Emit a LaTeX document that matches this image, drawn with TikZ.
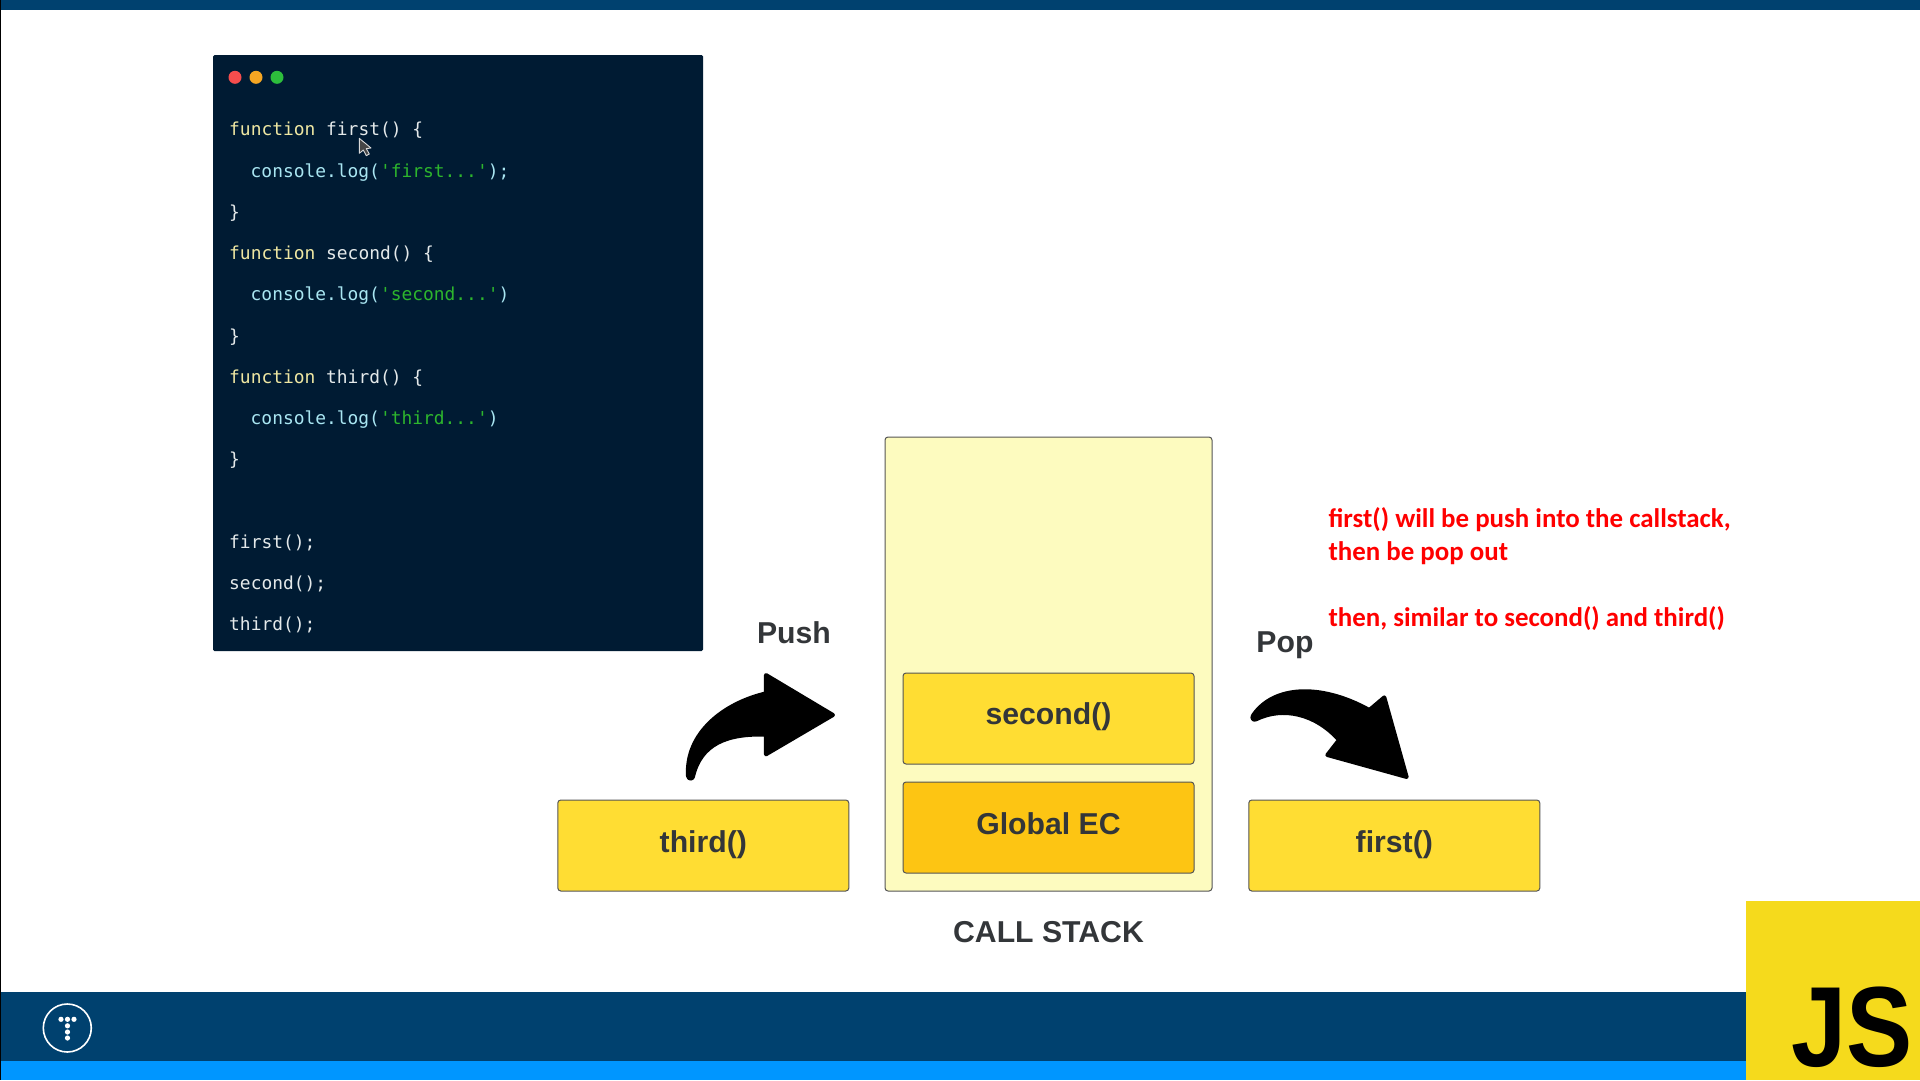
\documentclass[tikz,border=0pt]{standalone}
\usepackage{fontspec}
\setmainfont{Liberation Sans}
\newfontfamily\codefont{DejaVu Sans Mono}
\newfontfamily\notefont{Carlito}
\definecolor{barDark}{HTML}{00416F}
\definecolor{barBlue}{HTML}{0096FF}
\definecolor{panel}{HTML}{001B33}
\definecolor{kwcol}{HTML}{EFE7A2}
\definecolor{plaincol}{HTML}{E4E9EA}
\definecolor{fncol}{HTML}{A9E6F2}
\definecolor{strcol}{HTML}{2DB52D}
\definecolor{boxY}{HTML}{FFDD33}
\definecolor{boxG}{HTML}{FDC513}
\definecolor{stackY}{HTML}{FDFBBF}
\definecolor{edge}{HTML}{555555}
\definecolor{labelc}{HTML}{333639}
\definecolor{jsY}{HTML}{F5DA1C}
\definecolor{dotR}{HTML}{F54D4D}
\definecolor{dotO}{HTML}{F5A623}
\definecolor{dotG}{HTML}{2DBE3C}
\newcommand{\kw}[1]{\textcolor{kwcol}{#1}}
\newcommand{\fnc}[1]{\textcolor{fncol}{#1}}
\newcommand{\strc}[1]{\textcolor{strcol}{#1}}
\tikzset{
  codeline/.style={anchor=base west,inner sep=0pt,text=plaincol,font=\codefont\fontsize{17.9}{20}\selectfont},
  stackbox/.style={draw=edge,line width=1pt,rounded corners=3pt,inner sep=0pt},
  boxlabel/.style={inner sep=0pt,anchor=base,text=labelc,font=\fontsize{30.2}{36}\bfseries\selectfont},
  note/.style={anchor=base west,inner sep=0pt,text=red,font=\notefont\fontsize{26.9}{30}\bfseries\selectfont},
  dot/.style={circle,minimum size=13pt,inner sep=0pt},
  tdot/.style={circle,fill=white,minimum size=5.2pt,inner sep=0pt},
  bigarrow/.style={fill=black,draw=black,line width=4pt,line join=round}
}
\begin{document}
\begin{tikzpicture}[x=1pt,y=-1pt]
\useasboundingbox (0,0) rectangle (1920,1080);
\fill[white] (0,0) rectangle (1920,1080);
% frame bars
\fill[barDark] (0,0) rectangle (1920,10);
\fill[black] (0,0) rectangle (1,1080);
\fill[barDark] (1,992) rectangle (1746,1061);
\fill[barBlue] (1,1061) rectangle (1746,1080);
% code panel
\fill[panel,rounded corners=1.5pt] (213,55) rectangle (703,651);
\node[dot,fill=dotR] (d1) at (235,77.3) {};
\node[dot,fill=dotO] (d2) at (256,77.3) {};
\node[dot,fill=dotG] (d3) at (277,77.3) {};
\node[codeline] (c1) at (229,135) {\kw{function} first() \{};
\node[codeline] (c2) at (250.5,177) {\fnc{console.log(}\strc{'first...'}\fnc{);}};
\node[codeline] (c3) at (229,218) {\}};
\node[codeline] (c4) at (229,259) {\kw{function} second() \{};
\node[codeline] (c5) at (250.5,300.5) {\fnc{console.log(}\strc{'second...'}\fnc{)}};
\node[codeline] (c6) at (229,342) {\}};
\node[codeline] (c7) at (229,383.5) {\kw{function} third() \{};
\node[codeline] (c8) at (250.5,424.5) {\fnc{console.log(}\strc{'third...'}\fnc{)}};
\node[codeline] (c9) at (229,465) {\}};
\node[codeline] (c10) at (229,548) {first();};
\node[codeline] (c11) at (229,589) {second();};
\node[codeline] (c12) at (229,630) {third();};
% mouse cursor
\begin{scope}[shift={(200,40)},x=0.3333pt,y=-0.3333pt]
\fill[gray!55!black,draw=white!85!black,line width=0.9pt,line join=round] (478,295) -- (478,340) -- (490,330) -- (499,347) -- (508,342) -- (499,326) -- (513,324) -- cycle;
\end{scope}
% stack
\node[stackbox,fill=stackY,minimum width=327pt,minimum height=454pt] (stack) at (1048.5,664) {};
\node[stackbox,fill=boxY,minimum width=291pt,minimum height=91pt] (second) at (1048.5,718.5) {};
\node[stackbox,fill=boxG,minimum width=291pt,minimum height=91pt] (global) at (1048.5,827.5) {};
\node[stackbox,fill=boxY,minimum width=291pt,minimum height=91pt] (third) at (703.3,845.5) {};
\node[stackbox,fill=boxY,minimum width=291pt,minimum height=91pt] (first) at (1394.3,845.5) {};
\node[boxlabel] (tsecond) at (1048.5,724) {second()};
\node[boxlabel] (tglobal) at (1048.5,834) {Global EC};
\node[boxlabel] (tthird) at (703.3,852) {third()};
\node[boxlabel] (tfirst) at (1394.3,852) {first()};
\node[boxlabel] (tcall) at (1048.5,942.5) {CALL STACK};
\node[boxlabel] (tpush) at (794,643) {Push};
\node[boxlabel] (tpop) at (1285,652) {Pop};
% push arrow
\begin{scope}[shift={(660,620)},x=0.3333pt,y=-0.3333pt]
\draw[bigarrow] (318,165) -- (519,285) -- (318,403) -- (318,344)
  .. controls (200,340) and (122,372) .. (99,470)
  .. controls (97,478) and (86,478) .. (84,468)
  .. controls (76,340) and (190,250) .. (318,220) -- cycle;
\end{scope}
% pop arrow
\begin{scope}[shift={(1230,620)},x=0.3333pt,y=-0.3333pt]
\draw[bigarrow] (463,232) -- (530,471) -- (292,405) -- (327,360)
  .. controls (258,282) and (160,258) .. (78,298)
  .. controls (70,303) and (63,293) .. (70,285)
  .. controls (130,198) and (270,188) .. (418,270) -- cycle;
\end{scope}
% note
\node[note] (n1) at (1328.3,527) {first() will be push into the callstack,};
\node[note] (n2) at (1328.3,560) {then be pop out};
\node[note] (n3) at (1328.3,626) {then, similar to second() and third()};
% T icon
\node[circle,draw=white,line width=1.6pt,minimum size=48pt,inner sep=0pt] (ticon) at (67.3,1028) {};
\node[tdot] (t1) at (61,1019.3) {};
\node[tdot] (t2) at (67.5,1019.3) {};
\node[tdot] (t3) at (74,1019.3) {};
\node[tdot] (t4) at (67.5,1025.8) {};
\node[tdot] (t5) at (67.5,1032) {};
\node[tdot] (t6) at (67.5,1038) {};
% JS logo
\fill[jsY] (1746,901) rectangle (1920,1080);
\node[anchor=base east,inner sep=0pt,text=black,font=\fontsize{114}{118}\bfseries\selectfont] (js) at (1913,1066) {\scalebox{0.87}[1]{JS}};
\end{tikzpicture}
\end{document}
